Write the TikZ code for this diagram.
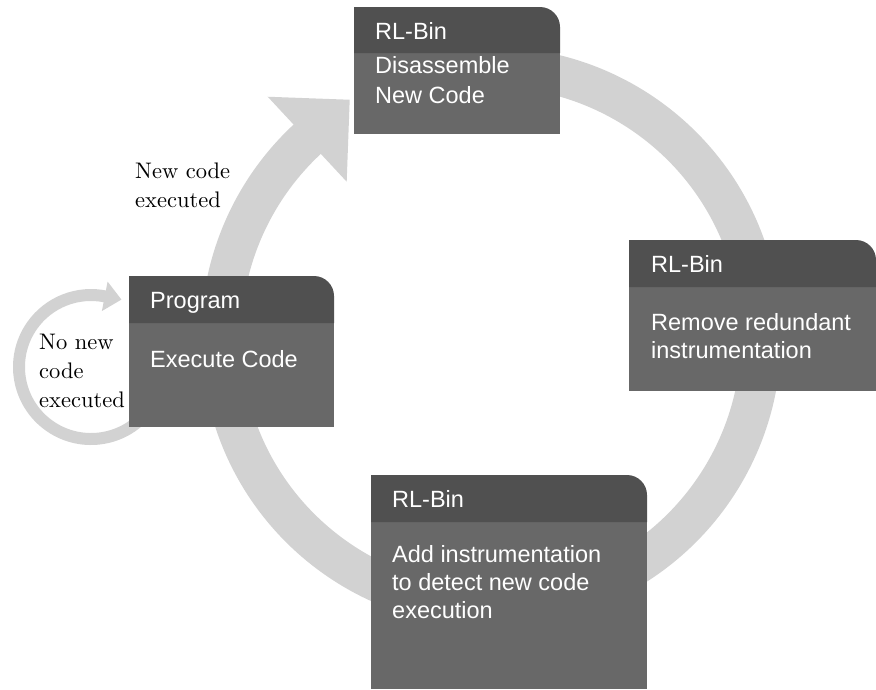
\documentclass[tikz,border=0pt]{standalone}
\usepackage{fontspec}
\setsansfont{Liberation Sans}
\newfontfamily\lmten{lmroman10-regular.otf}
\usetikzlibrary{calc}
\definecolor{hdr}{RGB}{80,80,80}
\definecolor{bdy}{RGB}{104,104,104}
\definecolor{ringc}{RGB}{210,210,210}
\begin{document}
\begin{tikzpicture}[x=1pt,y=1pt,
  hdrtxt/.style={anchor=base west, inner sep=0pt, text=white, font=\sffamily\fontsize{23.5}{28}\selectfont},
  bodytxt/.style={anchor=north west, inner sep=0pt, align=left, text=white, font=\sffamily\fontsize{23.5}{28}\selectfont},
  bodytxtb/.style={anchor=north west, inner sep=0pt, align=left, text=white, font=\sffamily\fontsize{23.5}{30}\selectfont},
  lbl/.style={anchor=north west, inner sep=0pt, align=left, text=black, font=\lmten\fontsize{22.5}{29}\selectfont},
  bodybox/.style={fill=bdy, inner sep=0pt, outer sep=0pt, anchor=north west},
  hdrfill/.style={fill=hdr},
  ringline/.style={draw=ringc, line cap=butt},
  ringhead/.style={fill=ringc}
]
\useasboundingbox (0,0) rectangle (876,-689);

% ---- big circular arrow ----
\coordinate (C) at (491,-337);
\draw[ringline, line width=40pt] (C) ++(100:270) arc[start angle=100, end angle=-228, radius=270];
\coordinate (Bo) at ($(C)+(132.9:328)$);
\coordinate (Bi) at ($(C)+(132.9:212)$);
\coordinate (Bt) at ($(C)+(132.9:270)+(42.9:58)$);
\fill[ringhead] (Bo) -- (Bt) -- (Bi) -- cycle;

% ---- small loop arrow ----
\coordinate (S) at (91,-367);
\draw[ringline, line width=12pt] (S) ++(-35:72) arc[start angle=-35, end angle=-282, radius=72];
\coordinate (So) at ($(S)+(79:87)$);
\coordinate (Si) at ($(S)+(79:57)$);
\coordinate (St) at ($(S)+(79:72)+(-11:17)$);
\fill[ringhead] (So) -- (St) -- (Si) -- cycle;

% ---- box 1 ----
\node[bodybox, minimum width=206pt, minimum height=81pt] (b1) at (354,-53) {};
\fill[hdrfill] (b1.north west) -- ++(0,46) -- ++(186,0) arc[start angle=90, end angle=0, radius=20] -- (b1.north east) -- cycle;
\node[hdrtxt] (h1) at (375,-39) {RL-Bin};
\node[bodytxtb] (t1) at (375,-56) {Disassemble\\New Code};

% ---- box 2 ----
\node[bodybox, minimum width=205pt, minimum height=104pt] (b2) at (129,-323) {};
\fill[hdrfill] (b2.north west) -- ++(0,47) -- ++(185,0) arc[start angle=90, end angle=0, radius=20] -- (b2.north east) -- cycle;
\node[hdrtxt] (h2) at (150,-308) {Program};
\node[bodytxt] (t2) at (150,-350) {Execute Code};

% ---- box 3 ----
\node[bodybox, minimum width=247pt, minimum height=104pt] (b3) at (629,-287) {};
\fill[hdrfill] (b3.north west) -- ++(0,47) -- ++(227,0) arc[start angle=90, end angle=0, radius=20] -- (b3.north east) -- cycle;
\node[hdrtxt] (h3) at (651,-272) {RL-Bin};
\node[bodytxt] (t3) at (651,-313) {Remove redundant\\instrumentation};

% ---- box 4 ----
\node[bodybox, minimum width=276pt, minimum height=167pt] (b4) at (371,-522) {};
\fill[hdrfill] (b4.north west) -- ++(0,47) -- ++(256,0) arc[start angle=90, end angle=0, radius=20] -- (b4.north east) -- cycle;
\node[hdrtxt] (h4) at (392,-507) {RL-Bin};
\node[bodytxt] (t4) at (392,-545) {Add instrumentation\\to detect new code\\execution};

% ---- labels ----
\node[lbl] (l1) at (135,-163) {New code\\executed};
\node[lbl] (l2) at (39,-334) {No new\\code\\executed};
\end{tikzpicture}
\end{document}
